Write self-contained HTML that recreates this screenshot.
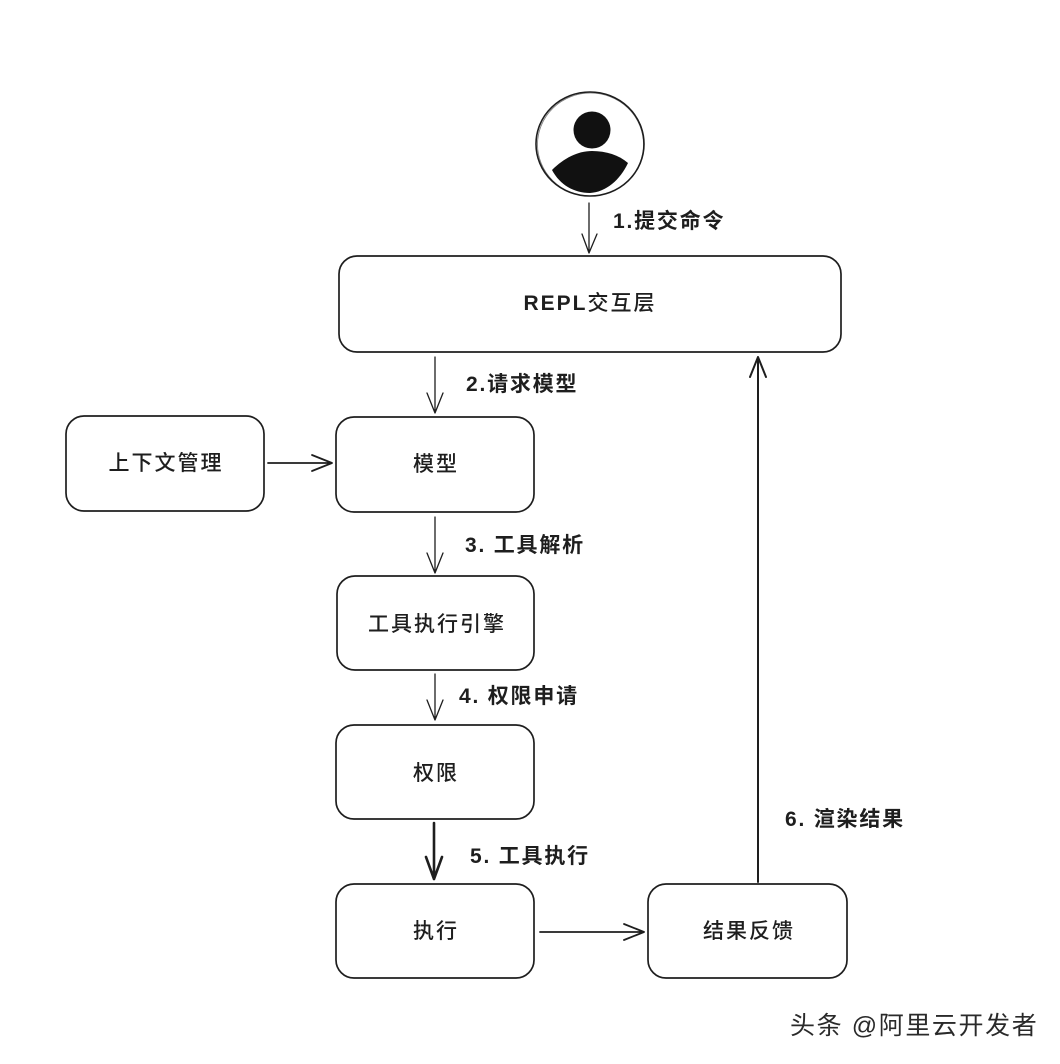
<!DOCTYPE html>
<html>
<head>
<meta charset="utf-8">
<style>
  html,body{margin:0;padding:0;background:#ffffff;}
  body{width:1060px;height:1064px;overflow:hidden;}
  svg{display:block;}
  .box{fill:none;stroke:#1e1e1e;stroke-width:1.7;}
  .t{font-family:"Liberation Sans","Noto Sans CJK SC",sans-serif;font-size:21px;fill:#1e1e1e;letter-spacing:2px;font-weight:500;}
  .l{font-family:"Liberation Sans","Noto Sans CJK SC",sans-serif;font-size:21px;fill:#1e1e1e;letter-spacing:1.8px;font-weight:bold;}
  .a{fill:none;stroke:#1e1e1e;stroke-linecap:round;stroke-linejoin:round;}
</style>
</head>
<body>
<svg width="1060" height="1064" viewBox="0 0 1060 1064" xmlns="http://www.w3.org/2000/svg">
  <!-- person icon -->
  <ellipse cx="590" cy="144" rx="54" ry="52" fill="none" stroke="#1e1e1e" stroke-width="1.6"/>
  <ellipse cx="590.5" cy="144.5" rx="53" ry="51.5" fill="none" stroke="#1e1e1e" stroke-width="0.8" opacity="0.6"/>
  <circle cx="592" cy="130" r="18.5" fill="#111"/>
  <path d="M552,170 C564,158 578,151 592,151 C606,151 619,155 628,163 C620,180 606,192 590,193 C574,193 560,185 552,170 Z" fill="#111"/>

  <!-- Arrow 1 -->
  <path class="a" stroke-width="1.3" d="M589,203 L589,253 M582,234 L589,253 L597,234"/>
  <text class="l" x="613" y="228">1.提交命令</text>

  <!-- REPL box -->
  <rect class="box" x="339" y="256" width="502" height="96" rx="18" ry="18"/>
  <text class="t" x="590" y="310" text-anchor="middle"><tspan font-weight="bold">REPL</tspan>交互层</text>

  <!-- Arrow 2 -->
  <path class="a" stroke-width="1.3" d="M435,357 L435,413 M427,393 L435,413 L443,393"/>
  <text class="l" x="466" y="391">2.请求模型</text>

  <!-- Context box -->
  <rect class="box" x="66" y="416" width="198" height="95" rx="18" ry="18"/>
  <text class="t" x="166" y="470" text-anchor="middle">上下文管理</text>

  <!-- Context -> model arrow -->
  <path class="a" stroke-width="1.8" d="M268,463 L332,463 M312,455 L332,463 L312,471"/>

  <!-- Model box -->
  <rect class="box" x="336" y="417" width="198" height="95" rx="18" ry="18"/>
  <text class="t" x="436" y="471" text-anchor="middle">模型</text>

  <!-- Arrow 3 -->
  <path class="a" stroke-width="1.3" d="M435,517 L435,573 M427,553 L435,573 L443,553"/>
  <text class="l" x="465" y="552">3. 工具解析</text>

  <!-- Tool engine box -->
  <rect class="box" x="337" y="576" width="197" height="94" rx="18" ry="18"/>
  <text class="t" x="437" y="631" text-anchor="middle">工具执行引擎</text>

  <!-- Arrow 4 -->
  <path class="a" stroke-width="1.3" d="M435,674 L435,720 M427,700 L435,720 L443,700"/>
  <text class="l" x="459" y="703">4. 权限申请</text>

  <!-- Permission box -->
  <rect class="box" x="336" y="725" width="198" height="94" rx="18" ry="18"/>
  <text class="t" x="436" y="780" text-anchor="middle">权限</text>

  <!-- Arrow 5 -->
  <path class="a" stroke-width="2.6" d="M434,823 L434,879 M426,857 L434,879 L442,857"/>
  <text class="l" x="470" y="863">5. 工具执行</text>

  <!-- Exec box -->
  <rect class="box" x="336" y="884" width="198" height="94" rx="18" ry="18"/>
  <text class="t" x="436" y="938" text-anchor="middle">执行</text>

  <!-- Exec -> result arrow -->
  <path class="a" stroke-width="1.8" d="M540,932 L644,932 M624,924 L644,932 L624,940"/>

  <!-- Result box -->
  <rect class="box" x="648" y="884" width="199" height="94" rx="18" ry="18"/>
  <text class="t" x="749" y="938" text-anchor="middle">结果反馈</text>

  <!-- Arrow 6 -->
  <path class="a" stroke-width="2" d="M758,882 L758,357 M750,377 L758,357 L766,377"/>
  <text class="l" x="785" y="826">6. 渲染结果</text>

  <!-- watermark -->
  <text x="790" y="1034" style="font-family:'Liberation Sans','Noto Sans CJK SC',sans-serif;font-size:25px;fill:#2a2a2a;letter-spacing:1.6px;">头条 @阿里云开发者</text>
</svg>
</body>
</html>
